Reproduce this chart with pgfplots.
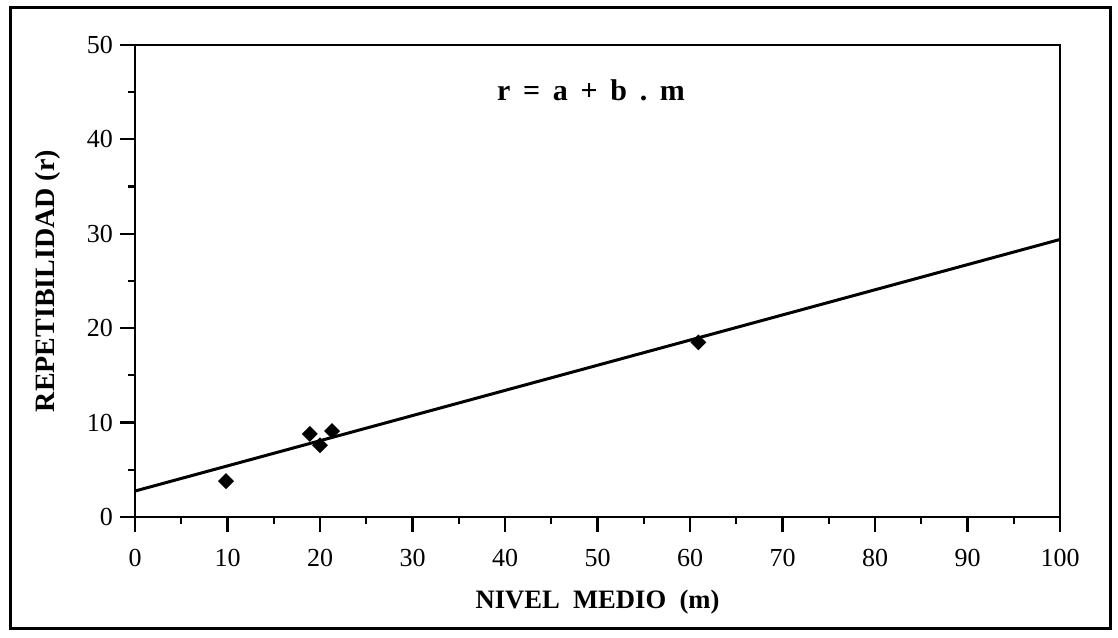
\documentclass[border=0pt]{standalone}
\usepackage{fontspec}
\setmainfont{Liberation Serif}
\usepackage{pgfplots}
\pgfplotsset{compat=1.18}
\newcommand{\tsp}{\ \hspace{2.6pt}}
\begin{document}
\begin{tikzpicture}
\useasboundingbox (0pt,0pt) rectangle (559pt,318.5pt);
\draw[line width=1.5pt] (5pt,4.5pt) rectangle (555pt,314.5pt);
\begin{axis}[
  at={(67.5pt,60pt)}, anchor=south west,
  scale only axis, width=462.5pt, height=236pt,
  xmin=0, xmax=100, ymin=0, ymax=50,
  xtick={0,10,...,100}, ytick={0,10,...,50},
  minor tick num=1,
  tick align=outside,
  xtick pos=bottom, ytick pos=left,
  major tick length=7.5pt, minor tick length=3.5pt,
  every tick/.style={black, line width=1.1pt},
  axis line style={line width=1.2pt},
  /pgf/number format/assume math mode=true,
  ticklabel style={font=\fontsize{13}{15}\selectfont},
  xticklabel shift=5pt,
  xlabel={NIVEL\ \ MEDIO\ \ (m)},
  ylabel={REPETIBILIDAD (r)},
  xlabel style={font=\fontsize{13.3}{15}\selectfont\bfseries, at={(axis description cs:0.5,-0.18)}, anchor=center},
  ylabel style={font=\fontsize{14}{16}\selectfont\bfseries, at={(axis description cs:-0.094,0.5)}, anchor=center},
  clip=false,
]
\addplot[black, line width=1.5pt, no marks] coordinates {(0,2.75) (100,29.4)};
\addplot[only marks, mark=square*, mark size=2.6pt, mark options={rotate=45, fill=black, draw=black}] coordinates {
 (9.84,3.8) (18.9,8.8) (20.0,7.6) (21.3,9.1) (60.9,18.5)
};
\node[font=\fontsize{15}{17}\selectfont\bfseries] at (axis cs:49.3,45.2) {r\tsp=\tsp a\tsp+\tsp b\tsp.\tsp m};
\end{axis}
\end{tikzpicture}
\end{document}
